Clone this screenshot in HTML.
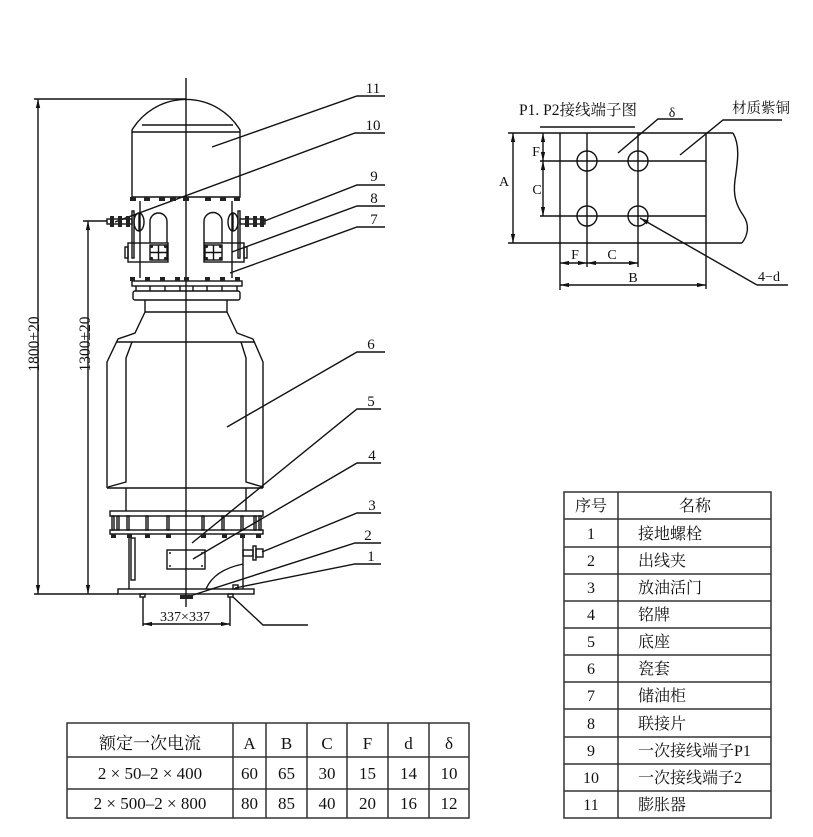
<!DOCTYPE html>
<html><head><meta charset="utf-8">
<style>
html,body{margin:0;padding:0;background:#fff;}
svg{display:block}
text{font-family:"Liberation Serif","Noto Serif CJK SC",serif;fill:#111}
</style></head><body>
<svg width="813" height="837" viewBox="0 0 813 837" xmlns="http://www.w3.org/2000/svg">
<defs>
<marker id="ar" viewBox="0 0 10 10" refX="10" refY="5" markerWidth="9" markerHeight="9" markerUnits="userSpaceOnUse" orient="auto-start-reverse"><path d="M0,2.6L10,5L0,7.4z" fill="#111"/></marker>
</defs>
<rect width="813" height="837" fill="#fff"/>

<g fill="none" stroke="#111" stroke-width="1.4">
<!-- centerline -->
<line x1="186" y1="78" x2="186" y2="607"/>
<!-- overall dims -->
<line x1="34" y1="99" x2="186" y2="99"/>
<line x1="38" y1="99" x2="38" y2="594" marker-start="url(#ar)" marker-end="url(#ar)"/>
<line x1="34" y1="594" x2="118" y2="594"/>
<line x1="83" y1="221" x2="107" y2="221"/>
<line x1="88" y1="221" x2="88" y2="594" marker-start="url(#ar)" marker-end="url(#ar)"/>

<!-- 11 expander dome -->
<path d="M132,197 V130 A63,63 0 0 1 240,130 V197 Z"/>
<line x1="142" y1="125" x2="233" y2="125"/>
<line x1="132" y1="132" x2="240" y2="132"/>

<!-- column (7) -->
<line x1="140" y1="201" x2="140" y2="278"/>
<line x1="232" y1="201" x2="232" y2="278"/>

<!-- terminals -->
<path d="M150,243 V221.5 A8.5,8.5 0 0 1 167,221.5 V243"/>
<path d="M204,243 V221.5 A9,9 0 0 1 222,221.5 V243"/>
<ellipse cx="139" cy="222" rx="5" ry="9"/>
<ellipse cx="233" cy="222" rx="5" ry="9"/>
<line x1="139" y1="213" x2="139" y2="231"/>
<line x1="233" y1="213" x2="233" y2="231"/>
<rect x="132" y="211" width="2" height="47"/>
<rect x="238" y="211" width="2" height="47"/>
<rect x="107" y="219" width="25" height="5"/>
<rect x="240" y="219" width="25" height="5"/>
<!-- clamp blocks -->
<rect x="128" y="243" width="40" height="19"/>
<rect x="150" y="245" width="17" height="15"/>
<line x1="158.5" y1="245" x2="158.5" y2="260"/>
<line x1="150" y1="252.5" x2="167" y2="252.5"/>
<rect x="125" y="247" width="3" height="11"/>
<rect x="204" y="243" width="40" height="19"/>
<rect x="205" y="245" width="17" height="15"/>
<line x1="213.5" y1="245" x2="213.5" y2="260"/>
<line x1="205" y1="252.5" x2="222" y2="252.5"/>
<rect x="244" y="247" width="3" height="11"/>

<!-- top flange -->
<rect x="132" y="281" width="110" height="5"/>
<line x1="136" y1="286" x2="136" y2="291"/><line x1="150" y1="286" x2="150" y2="291"/>
<line x1="165" y1="286" x2="165" y2="291"/><line x1="180" y1="286" x2="180" y2="291"/>
<line x1="193" y1="286" x2="193" y2="291"/><line x1="207" y1="286" x2="207" y2="291"/>
<line x1="222" y1="286" x2="222" y2="291"/><line x1="237" y1="286" x2="237" y2="291"/>
<rect x="133" y="291" width="107" height="9" rx="2"/>

<!-- porcelain (6) -->
<line x1="145" y1="300" x2="145" y2="312"/>
<line x1="227" y1="300" x2="227" y2="312"/>
<line x1="145" y1="312" x2="227" y2="312"/>
<polyline points="145,312 135,333 118,339 107,362 107,488"/>
<polyline points="227,312 237,333 253,339 263,362 263,488"/>
<line x1="117" y1="342" x2="254" y2="342"/>
<polyline points="132,342 126,358 126,482 108,487"/>
<polyline points="241,342 246,358 246,482 263,487"/>
<line x1="107" y1="488" x2="263" y2="488"/>
<line x1="126" y1="488" x2="126" y2="511"/>
<line x1="246" y1="488" x2="246" y2="511"/>

<!-- base flange -->
<rect x="110" y="511" width="153" height="5"/>
<rect x="112" y="516" width="2" height="14"/><rect x="117" y="516" width="2" height="14"/>
<rect x="127" y="516" width="2" height="14"/><rect x="146" y="516" width="2" height="14"/>
<rect x="167" y="516" width="2" height="14"/><rect x="202" y="516" width="2" height="14"/>
<rect x="222" y="516" width="2" height="14"/><rect x="241" y="516" width="2" height="14"/>
<rect x="254" y="516" width="2" height="14"/><rect x="259" y="516" width="2" height="14"/>
<rect x="110" y="530" width="153" height="4"/>

<!-- base box (5) -->
<line x1="129" y1="534" x2="129" y2="589"/>
<line x1="243" y1="534" x2="243" y2="589"/>
<rect x="131" y="538" width="4" height="42"/>
<rect x="167" y="550" width="38" height="19"/>
<rect x="243" y="550" width="10" height="6"/>
<rect x="253" y="546" width="3" height="14"/>
<rect x="256" y="549" width="7" height="8"/>
<path d="M243,564 Q214,570 206,589"/>
<rect x="118" y="589" width="136" height="5"/>
<rect x="140" y="594" width="5" height="3"/>
<rect x="228" y="594" width="5" height="3"/>
<rect x="233" y="585" width="5" height="4"/>

<!-- 337 dim -->
<line x1="143" y1="597" x2="143" y2="626"/>
<line x1="230" y1="597" x2="230" y2="626"/>
<line x1="143" y1="624" x2="230" y2="624" marker-start="url(#ar)" marker-end="url(#ar)"/>

<!-- leaders -->
<polyline points="212,147 357,96 385,96"/>
<polyline points="115,222 355,133 385,133"/>
<polyline points="262,222 357,185 385,185"/>
<polyline points="232,252 357,206 385,206"/>
<polyline points="230,273 357,227 385,227"/>
<polyline points="227,427 357,352 385,352"/>
<polyline points="192,543 357,409 381,409"/>
<polyline points="193,559 357,463 381,463"/>
<polyline points="262,552 357,513 381,513"/>
<polyline points="193,595 355,543 381,543"/>
<polyline points="235,588 355,564 381,564"/>
<polyline points="233,597 263,625 308,625"/>
</g>

<!-- nuts / dots -->
<g fill="#222">
<rect x="130" y="197" width="6" height="4"/><rect x="144" y="197" width="6" height="4"/>
<rect x="159" y="197" width="6" height="4"/><rect x="170" y="197" width="6" height="4"/>
<rect x="183" y="197" width="6" height="4"/><rect x="205" y="197" width="6" height="4"/>
<rect x="220" y="197" width="6" height="4"/><rect x="234" y="197" width="6" height="4"/>
<rect x="110" y="216" width="4" height="11"/><rect x="118" y="216" width="4" height="11"/><rect x="126" y="216" width="4" height="11"/>
<rect x="245" y="216" width="4" height="11"/><rect x="253" y="216" width="4" height="11"/><rect x="260" y="216" width="4" height="11"/>
<circle cx="151.5" cy="246.5" r="1.6"/><circle cx="165.5" cy="246.5" r="1.6"/><circle cx="151.5" cy="258.5" r="1.6"/><circle cx="165.5" cy="258.5" r="1.6"/>
<circle cx="206.5" cy="246.5" r="1.6"/><circle cx="220.5" cy="246.5" r="1.6"/><circle cx="206.5" cy="258.5" r="1.6"/><circle cx="220.5" cy="258.5" r="1.6"/>
<rect x="130" y="277" width="5" height="4"/><rect x="145" y="277" width="5" height="4"/>
<rect x="160" y="277" width="5" height="4"/><rect x="175" y="277" width="5" height="4"/>
<rect x="184" y="277" width="5" height="4"/><rect x="205" y="277" width="5" height="4"/>
<rect x="220" y="277" width="5" height="4"/><rect x="235" y="277" width="5" height="4"/>
<rect x="111" y="534" width="5" height="4"/><rect x="127" y="534" width="5" height="4"/>
<rect x="145" y="534" width="5" height="4"/><rect x="166" y="534" width="5" height="4"/>
<rect x="201" y="534" width="5" height="4"/><rect x="222" y="534" width="5" height="4"/>
<rect x="240" y="534" width="5" height="4"/><rect x="256" y="534" width="5" height="4"/>
<rect x="180" y="595" width="13" height="4"/>
<circle cx="170" cy="553" r="1"/><circle cx="202" cy="553" r="1"/><circle cx="170" cy="566" r="1"/><circle cx="202" cy="566" r="1"/>
</g>

<!-- main labels -->
<g font-size="15" text-anchor="middle">
<text x="373" y="93">11</text>
<text x="373" y="130">10</text>
<text x="374" y="181">9</text>
<text x="374" y="203">8</text>
<text x="374" y="224">7</text>
<text x="371" y="349">6</text>
<text x="371" y="406">5</text>
<text x="372" y="460">4</text>
<text x="372" y="510">3</text>
<text x="368" y="540">2</text>
<text x="371" y="561">1</text>
<text x="185" y="621" font-size="14">337×337</text>
<text transform="translate(39,344) rotate(-90)" font-size="15.5">1800+20</text>
<text transform="translate(90,344) rotate(-90)" font-size="15.5">1300±20</text>
</g>

<!-- P1 P2 terminal diagram -->
<g fill="none" stroke="#111" stroke-width="1.4">
<line x1="540" y1="127" x2="635" y2="127"/>
<polyline points="618,153 658,119 683,119"/>
<polyline points="680,155 723,120 782,120"/>
<line x1="508" y1="133" x2="733" y2="133"/>
<line x1="508" y1="243" x2="742" y2="243"/>
<path d="M733,133 C740,145 738,160 735,180 C733,195 736,205 743,215 C750,225 748,235 742,243"/>
<line x1="560" y1="133" x2="560" y2="290"/>
<line x1="706" y1="133" x2="706" y2="289"/>
<line x1="587" y1="133" x2="587" y2="267"/>
<line x1="638" y1="133" x2="638" y2="267"/>
<line x1="540" y1="161" x2="706" y2="161"/>
<line x1="540" y1="216" x2="706" y2="216"/>
<circle cx="587" cy="161" r="10"/>
<circle cx="638" cy="161" r="10"/>
<circle cx="587" cy="216" r="10"/>
<circle cx="638" cy="216" r="10"/>
<line x1="513" y1="133" x2="513" y2="243" marker-start="url(#ar)" marker-end="url(#ar)"/>
<line x1="543" y1="133" x2="543" y2="161" marker-start="url(#ar)" marker-end="url(#ar)"/>
<line x1="543" y1="161" x2="543" y2="216" marker-start="url(#ar)" marker-end="url(#ar)"/>
<line x1="560" y1="263" x2="587" y2="263" marker-start="url(#ar)" marker-end="url(#ar)"/>
<line x1="587" y1="263" x2="638" y2="263" marker-start="url(#ar)" marker-end="url(#ar)"/>
<line x1="560" y1="285" x2="706" y2="285" marker-start="url(#ar)" marker-end="url(#ar)"/>
<polyline points="757,285 640,218" marker-end="url(#ar)"/>
<line x1="757" y1="285" x2="788" y2="285"/>
</g>
<g font-size="15" text-anchor="middle">
<text x="578" y="115" font-size="15.5">P1. P2接线端子图</text>
<text x="672" y="117" font-size="14">δ</text>
<text x="761" y="113" font-size="14.5">材质紫铜</text>
<text x="504" y="186" font-size="14">A</text>
<text x="536" y="156" font-size="14">F</text>
<text x="537" y="194" font-size="14">C</text>
<text x="575" y="259" font-size="14">F</text>
<text x="612" y="259" font-size="14">C</text>
<text x="633" y="282" font-size="14">B</text>
<text x="769" y="281" font-size="14">4−d</text>
</g>

<!-- right parts table -->
<g fill="none" stroke="#333" stroke-width="1.5">
<rect x="564" y="492" width="207" height="326"/>
<line x1="618" y1="492" x2="618" y2="818"/>
<line x1="564" y1="519" x2="771" y2="519"/>
<line x1="564" y1="547" x2="771" y2="547"/>
<line x1="564" y1="574" x2="771" y2="574"/>
<line x1="564" y1="601" x2="771" y2="601"/>
<line x1="564" y1="628" x2="771" y2="628"/>
<line x1="564" y1="655" x2="771" y2="655"/>
<line x1="564" y1="682" x2="771" y2="682"/>
<line x1="564" y1="709" x2="771" y2="709"/>
<line x1="564" y1="737" x2="771" y2="737"/>
<line x1="564" y1="764" x2="771" y2="764"/>
<line x1="564" y1="791" x2="771" y2="791"/>
</g>
<g font-size="16">
<text x="591" y="511" text-anchor="middle">序号</text>
<text x="695" y="511" text-anchor="middle">名称</text>
<g text-anchor="middle">
<text x="591" y="539">1</text>
<text x="591" y="566">2</text>
<text x="591" y="593">3</text>
<text x="591" y="620">4</text>
<text x="591" y="647">5</text>
<text x="591" y="674">6</text>
<text x="591" y="701">7</text>
<text x="591" y="729">8</text>
<text x="591" y="756">9</text>
<text x="591" y="783">10</text>
<text x="591" y="810">11</text>
</g>
<text x="638" y="539">接地螺栓</text>
<text x="638" y="566">出线夹</text>
<text x="638" y="593">放油活门</text>
<text x="638" y="620">铭牌</text>
<text x="638" y="647">底座</text>
<text x="638" y="674">瓷套</text>
<text x="638" y="701">储油柜</text>
<text x="638" y="729">联接片</text>
<text x="638" y="756">一次接线端子P1</text>
<text x="638" y="783">一次接线端子2</text>
<text x="638" y="810">膨胀器</text>
</g>

<!-- bottom spec table -->
<g fill="none" stroke="#333" stroke-width="1.5">
<rect x="67" y="723" width="402" height="95"/>
<line x1="67" y1="757" x2="469" y2="757"/>
<line x1="67" y1="789" x2="469" y2="789"/>
<line x1="233" y1="723" x2="233" y2="818"/>
<line x1="266" y1="723" x2="266" y2="818"/>
<line x1="307" y1="723" x2="307" y2="818"/>
<line x1="347" y1="723" x2="347" y2="818"/>
<line x1="388" y1="723" x2="388" y2="818"/>
<line x1="429" y1="723" x2="429" y2="818"/>
</g>
<g font-size="17" text-anchor="middle">
<text x="150" y="749">额定一次电流</text>
<text x="249.5" y="749">A</text>
<text x="286.5" y="749">B</text>
<text x="327" y="749">C</text>
<text x="367.5" y="749">F</text>
<text x="408.5" y="749">d</text>
<text x="449" y="749">δ</text>
<text x="150" y="779">2 × 50–2 × 400</text>
<text x="249.5" y="779">60</text>
<text x="286.5" y="779">65</text>
<text x="327" y="779">30</text>
<text x="367.5" y="779">15</text>
<text x="408.5" y="779">14</text>
<text x="449" y="779">10</text>
<text x="150" y="809">2 × 500–2 × 800</text>
<text x="249.5" y="809">80</text>
<text x="286.5" y="809">85</text>
<text x="327" y="809">40</text>
<text x="367.5" y="809">20</text>
<text x="408.5" y="809">16</text>
<text x="449" y="809">12</text>
</g>
</svg>
</body></html>
